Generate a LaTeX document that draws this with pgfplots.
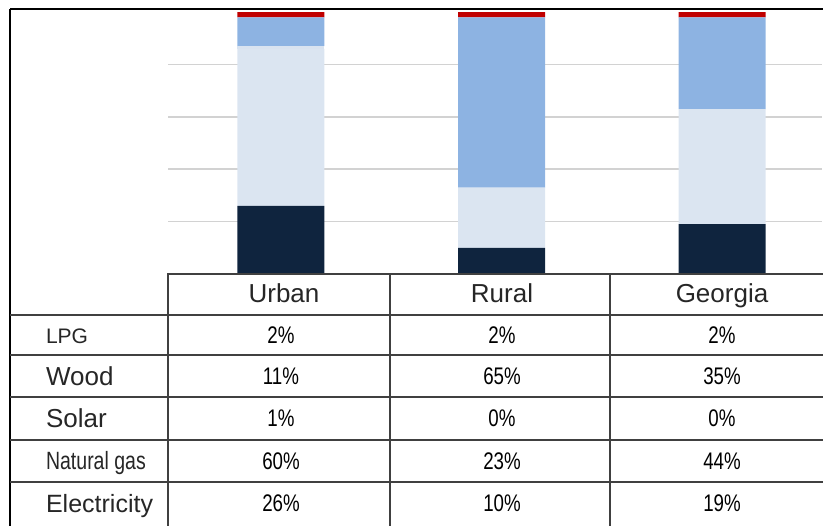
\documentclass[border=0pt]{standalone}
\usepackage{fontspec}
\setmainfont{Liberation Sans}
\newfontfamily\narrowfont{Liberation Sans}[FakeStretch=0.78]
\usepackage{pgfplots}
\pgfplotsset{compat=1.18}

\definecolor{elec}{HTML}{0F243E}
\definecolor{gas}{HTML}{DBE5F1}
\definecolor{solar}{HTML}{D9E3F0}
\definecolor{wood}{HTML}{8DB3E2}
\definecolor{lpg}{HTML}{C00000}
\definecolor{tline}{HTML}{404040}
\definecolor{txt}{HTML}{262626}

\begin{document}
\begin{tikzpicture}
\useasboundingbox (0,0) rectangle (411.5pt,-262.5pt);
\begin{axis}[
  at={(84pt,-137pt)}, anchor=south west,
  scale only axis, width=327pt, height=132pt,
  xmin=-0.512, xmax=2.453, ymin=0, ymax=100.8,
  ybar stacked, bar width=43.5pt,
  axis line style={draw=none}, tick style={draw=none},
  xtick=\empty, ytick={20,40,60,80}, yticklabels={},
  ymajorgrids, grid style={gray!35, line width=0.8pt},
]
% order from bottom: Electricity, Natural gas, Solar, Wood, LPG
\addplot[fill=elec, draw=none] coordinates {(0,26) (1,10) (2,19)};
\addplot[fill=gas, draw=none] coordinates {(0,60) (1,23) (2,44)};
\addplot[fill=solar, draw=none] coordinates {(0,1) (1,0) (2,0)};
\addplot[fill=wood, draw=none] coordinates {(0,11) (1,65) (2,35)};
\addplot[fill=lpg, draw=none] coordinates {(0,2) (1,2) (2,2)};
\end{axis}

\begin{scope}[x=0.5pt, y=-0.5pt, every node/.style={text height=1.6ex, text depth=0.4ex}]
  % outer frame
  \draw[black, line width=0.8pt] (10,9) -- (830,9);
  \draw[black, line width=0.8pt] (10,9) -- (10,530);
  % table
  \draw[tline, line width=1.1pt] (168,530) -- (168,274) -- (830,274);
  \foreach \y in {315,355,397,440,482}
    \draw[tline, line width=1.1pt] (10,\y) -- (830,\y);
  \draw[tline, line width=1.1pt] (390,274) -- (390,530);
  \draw[tline, line width=1.1pt] (610,274) -- (610,530);
  % header
  \foreach \x/\t in {284/Urban, 502/Rural, 722/Georgia}
    \node[txt, font=\fontsize{13}{15}\selectfont] at (\x,296) {\t};
  % row labels
  \node[txt, anchor=west, font=\fontsize{10.5}{12}\selectfont] at (39,337) {LPG};
  \node[txt, anchor=west, font=\fontsize{13}{15}\selectfont] at (39,379) {Wood};
  \node[txt, anchor=west, font=\fontsize{13}{15}\selectfont] at (39,421) {Solar};
  \node[txt, anchor=west, font=\narrowfont\fontsize{12.5}{14}\selectfont] at (39,463) {Natural gas};
  \node[txt, anchor=west, font=\fontsize{12.5}{15}\selectfont] at (39,506) {Electricity};
  % values
  \foreach \x/\a/\b/\c/\d/\e in {281/2/11/1/60/26, 502/2/65/0/23/10, 722/2/35/0/44/19} {
    \node[black, font=\narrowfont\fontsize{12}{14}\selectfont] at (\x,337) {\a\%};
    \node[black, font=\narrowfont\fontsize{12}{14}\selectfont] at (\x,378) {\b\%};
    \node[black, font=\narrowfont\fontsize{12}{14}\selectfont] at (\x,420.5) {\c\%};
    \node[black, font=\narrowfont\fontsize{12}{14}\selectfont] at (\x,463) {\d\%};
    \node[black, font=\narrowfont\fontsize{12}{14}\selectfont] at (\x,505.5) {\e\%};
  }
\end{scope}
\end{tikzpicture}
\end{document}
